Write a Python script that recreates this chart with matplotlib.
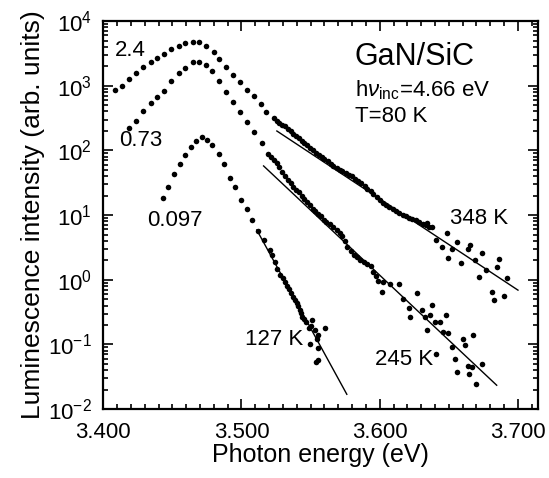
import numpy as np
import matplotlib
matplotlib.use('Agg')
import matplotlib.pyplot as plt
from matplotlib.ticker import LogLocator, LogFormatterMathtext, MultipleLocator, FormatStrFormatter

plt.rcParams['font.family'] = ['Liberation Sans', 'DejaVu Sans']
plt.rcParams['mathtext.fontset'] = 'custom'
plt.rcParams['mathtext.rm'] = 'Liberation Sans'
plt.rcParams['mathtext.it'] = 'Liberation Sans:italic'

# excitation density 2.4 (top curve): photon energy (eV), log10 intensity
e_24 = [3.4087, 3.4135, 3.419, 3.424, 3.429, 3.4345, 3.439, 3.444, 3.449, 3.4545,
        3.459, 3.465, 3.469, 3.4745, 3.480, 3.484, 3.489, 3.494, 3.499, 3.504,
        3.509, 3.514, 3.518,
        3.5235, 3.5255, 3.5275, 3.5295, 3.5315, 3.5335, 3.5355, 3.5375, 3.5395, 3.5415,
        3.5435, 3.5455, 3.5475, 3.5495, 3.5515, 3.5540, 3.5560, 3.5580, 3.5600, 3.5625,
        3.5645, 3.5665, 3.5690, 3.5710, 3.5730, 3.5755, 3.5775, 3.5800, 3.5820, 3.5845,
        3.5865, 3.5890, 3.5910, 3.5935, 3.5955, 3.5980, 3.6000, 3.6025, 3.6045, 3.6070,
        3.6095, 3.6115, 3.6140, 3.6165, 3.6190, 3.6210, 3.6235, 3.6260, 3.6285, 3.6310,
        3.6335, 3.6360, 3.6380,
        3.634, 3.641, 3.645, 3.6485, 3.652, 3.6497, 3.6557, 3.659, 3.6635, 3.6655,
        3.669, 3.674, 3.672, 3.677, 3.6846, 3.686, 3.692, 3.681, 3.683, 3.690]
lg_24 = [2.93, 3.00, 3.10, 3.20, 3.29, 3.37, 3.43, 3.49, 3.56, 3.61,
         3.66, 3.67, 3.67, 3.62, 3.52, 3.42, 3.29, 3.17, 3.05, 2.93,
         2.84, 2.71, 2.60,
         2.50, 2.46, 2.43, 2.40, 2.37, 2.33, 2.30, 2.26, 2.22, 2.19,
         2.14, 2.11, 2.08, 2.04, 2.00, 1.96, 1.93, 1.90, 1.86, 1.83,
         1.79, 1.76, 1.73, 1.70, 1.68, 1.65, 1.62, 1.60, 1.56, 1.52,
         1.49, 1.45, 1.40, 1.37, 1.33, 1.28, 1.24, 1.19, 1.15, 1.12,
         1.09, 1.06, 1.03, 1.00, 0.98, 0.95, 0.94, 0.92, 0.89, 0.86,
         0.84, 0.81, 0.82,
         0.88, 0.61, 0.51, 0.73, 0.48, 0.33, 0.59, 0.26, 0.48, 0.54,
         0.30, 0.41, 0.04, 0.15, 0.19, 0.32, 0.03, -0.19, -0.32, -0.25]

# excitation density 0.73 (middle curve)
e_073 = [3.419, 3.424, 3.429, 3.4345, 3.439, 3.444, 3.449, 3.4545, 3.459, 3.465,
         3.469, 3.4745, 3.479, 3.484, 3.489, 3.494, 3.499, 3.504, 3.509, 3.5148,
         3.5195, 3.5215, 3.5235, 3.5255, 3.5275, 3.5295, 3.5315, 3.5335, 3.5355, 3.5375,
         3.5395, 3.5415, 3.5435, 3.5455, 3.5475, 3.5495, 3.5515, 3.5535, 3.5555, 3.5575,
         3.5595, 3.5615, 3.5640, 3.5665, 3.5690, 3.5710, 3.5730, 3.5750, 3.5765, 3.5790,
         3.5815, 3.5835, 3.5860, 3.5885, 3.5910, 3.5935, 3.5950, 3.5970, 3.5990,
         3.6015, 3.6027, 3.6075, 3.6136, 3.617, 3.621, 3.622, 3.627, 3.6304, 3.633,
         3.6377, 3.6364, 3.640, 3.634, 3.6437, 3.648, 3.646, 3.6497, 3.652, 3.6545,
         3.660, 3.6618, 3.656, 3.664, 3.6677, 3.6665, 3.6645, 3.674, 3.670, 3.641]
lg_073 = [2.35, 2.45, 2.61, 2.73, 2.83, 2.92, 3.08, 3.19, 3.28, 3.36,
          3.37, 3.32, 3.22, 3.08, 2.91, 2.75, 2.60, 2.44, 2.29, 2.11,
          1.95, 1.90, 1.85, 1.80, 1.75, 1.67, 1.60, 1.54, 1.49, 1.44,
          1.39, 1.35, 1.30, 1.25, 1.21, 1.16, 1.10, 1.06, 1.02, 0.98,
          0.93, 0.90, 0.86, 0.82, 0.77, 0.73, 0.68, 0.60, 0.50, 0.44,
          0.38, 0.35, 0.31, 0.28, 0.24, 0.22, 0.12, 0.06, -0.02,
          -0.19, -0.03, -0.06, -0.06, -0.29, -0.44, -0.57, -0.21, -0.47, -0.57,
          -0.39, -0.55, -0.65, -0.78, -0.65, -0.55, -0.80, -0.83, -1.04, -1.22,
          -0.92, -1.01, -1.43, -1.33, -0.86, -1.35, -1.45, -1.30, -1.61, -1.15]

# excitation density 0.097 (bottom curve)
e_0097 = [3.4436, 3.4472, 3.4513, 3.4557, 3.4593, 3.4634, 3.4672, 3.4713, 3.4754, 3.479,
          3.4834, 3.4875, 3.4918, 3.4954, 3.4996, 3.504, 3.5075, 3.5116, 3.516, 3.5203,
          3.5220, 3.5240, 3.5260, 3.5280, 3.5300, 3.5316, 3.5330, 3.5345, 3.5360, 3.5375,
          3.5388, 3.5400, 3.5410, 3.5420, 3.5432, 3.5440, 3.5455, 3.5470, 3.5485, 3.5497,
          3.5510, 3.5533, 3.5545, 3.5557, 3.5557, 3.5605, 3.5557, 3.5540, 3.5500]
lg_0097 = [1.26, 1.44, 1.64, 1.79, 1.93, 2.05, 2.15, 2.20, 2.16, 2.08,
           1.95, 1.79, 1.58, 1.43, 1.24, 1.10, 0.92, 0.76, 0.61, 0.46,
           0.38, 0.27, 0.17, 0.08, 0.02, -0.04, -0.09, -0.14, -0.20, -0.26,
           -0.31, -0.36, -0.41, -0.46, -0.52, -0.57, -0.61, -0.66, -0.74, -1.00,
           -0.62, -0.78, -0.91, -0.86, -1.05, -0.75, -1.24, -1.27, -0.72]

# exponential tail fits: (start energy, end energy), (log10 I at start, at end)
fit_348 = ([3.5256, 3.700], [2.30, -0.16])
fit_245 = ([3.516, 3.6846], [1.76, -1.63])
fit_127 = ([3.5111, 3.5762], [0.77, -1.77])

fig = plt.figure(figsize=(5.49, 4.78), dpi=100)
ax = fig.add_axes([0.188, 0.144, 0.792, 0.812])

for e, lg in [(e_24, lg_24), (e_073, lg_073), (e_0097, lg_0097)]:
    ax.plot(e, 10 ** np.array(lg), 'o', color='black', markersize=4.0, markeredgewidth=0)

for e, lg in [fit_348, fit_245, fit_127]:
    ax.plot(e, 10 ** np.array(lg), '-', color='black', lw=1.0)

ax.set_yscale('log')
ax.set_xlim(3.400, 3.7145)
ax.set_ylim(1e-2, 1e4)

ax.xaxis.set_major_locator(MultipleLocator(0.1))
ax.xaxis.set_minor_locator(MultipleLocator(0.01))
ax.xaxis.set_major_formatter(FormatStrFormatter('%.3f'))
ax.yaxis.set_major_locator(LogLocator(base=10, numticks=10))
ax.yaxis.set_minor_locator(LogLocator(base=10, subs=np.arange(2, 10), numticks=10))
ax.yaxis.set_major_formatter(LogFormatterMathtext())

ax.tick_params(which='both', direction='in', top=True, right=True, width=1.2)
ax.tick_params(which='major', length=7, labelsize=16)
ax.tick_params(axis='x', which='major', pad=9)
ax.tick_params(axis='y', which='major', pad=8)
ax.tick_params(which='minor', length=3.5)
for s in ax.spines.values():
    s.set_linewidth(1.6)

ax.set_xlabel('Photon energy (eV)', fontsize=18, labelpad=0)
ax.set_ylabel('Luminescence intensity (arb. units)', fontsize=19, labelpad=2)

ax.text(3.4087, 10 ** 3.55, '2.4', fontsize=16, va='center')
ax.text(3.4116, 10 ** 2.16, '0.73', fontsize=16, va='center')
ax.text(3.4318, 10 ** 0.91, '0.097', fontsize=16, va='center')
ax.text(3.582, 10 ** 3.44, 'GaN/SiC', fontsize=22, va='center')
ax.text(3.582, 10 ** 2.93, r'h$\nu_{\rm inc}$=4.66 eV', fontsize=16, va='center')
ax.text(3.582, 10 ** 2.52, 'T=80 K', fontsize=16, va='center')
ax.text(3.651, 10 ** 0.94, '348 K', fontsize=16, va='center')
ax.text(3.5027, 10 ** -0.93, '127 K', fontsize=16, va='center')
ax.text(3.5967, 10 ** -1.23, '245 K', fontsize=16, va='center')

fig.savefig('out.png', dpi=100)
